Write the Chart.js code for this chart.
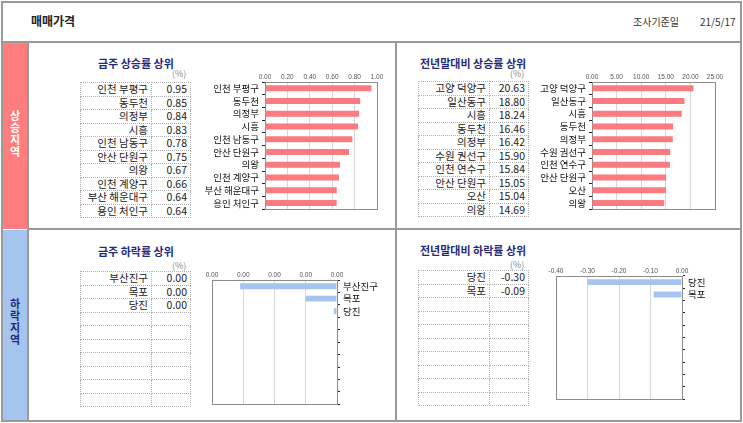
<!DOCTYPE html>
<html><head><meta charset="utf-8">
<script src="https://cdn.jsdelivr.net/npm/chart.js@4/dist/chart.umd.min.js"></script>
<style>
html,body{margin:0;padding:0;background:#fff;}
body{width:743px;height:423px;position:relative;overflow:hidden;font-family:"Noto Sans CJK KR","Noto Sans",sans-serif;}
.abs{position:absolute;}
.box{position:absolute;border:2px solid #9a9a9a;box-sizing:border-box;}
.title{position:absolute;font-weight:bold;font-size:11px;color:#1f2b7b;white-space:nowrap;line-height:14px;}
.unit{position:absolute;font-size:9px;color:#8a8a8a;line-height:10px;}
table.t{position:absolute;border-collapse:collapse;table-layout:fixed;font-size:10.5px;color:#222;}
table.t td{border:1px dotted #b0b0b0;height:12.5px;padding:0 3px;text-align:right;line-height:12px;white-space:nowrap;overflow:hidden;}
.ch{position:absolute;left:3px;width:24px;text-align:center;font-weight:bold;font-size:11px;line-height:12px;height:12px;}
.cw{position:absolute;}
</style></head>
<body>
<div class="box" style="left:1px;top:1px;width:741px;height:42px;"></div>
<div class="abs" style="left:31px;top:12px;font-size:12px;font-weight:bold;color:#222;">매매가격</div>
<div class="abs" style="left:633px;top:14px;font-size:10px;color:#333;">조사기준일</div>
<div class="abs" style="left:700px;top:14px;font-size:10px;color:#333;">21/5/17</div>

<div class="box" style="left:1px;top:41px;width:741px;height:381px;"></div>
<div class="abs" style="left:3px;top:43px;width:24px;height:186px;background:#ff7d7d;"></div>
<div class="abs" style="left:3px;top:230px;width:24px;height:190px;background:#a6c5ee;"></div>
<div class="abs" style="left:27px;top:43px;width:2px;height:377px;background:#9a9a9a;"></div>
<div class="abs" style="left:395px;top:43px;width:2px;height:377px;background:#9a9a9a;"></div>
<div class="abs" style="left:29px;top:228px;width:711px;height:2px;background:#9a9a9a;"></div>
<div class="ch" style="top:109px;color:#fff;">상</div>
<div class="ch" style="top:121px;color:#fff;">승</div>
<div class="ch" style="top:133px;color:#fff;">지</div>
<div class="ch" style="top:145px;color:#fff;">역</div>
<div class="ch" style="top:297px;color:#1f2b7b;">하</div>
<div class="ch" style="top:309px;color:#1f2b7b;">락</div>
<div class="ch" style="top:321px;color:#1f2b7b;">지</div>
<div class="ch" style="top:333px;color:#1f2b7b;">역</div>

<div class="title" style="left:98px;top:56px;">금주 상승률 상위</div>
<div class="unit" style="left:172px;top:69px;">(%)</div>
<table class="t" id="t1" style="left:80px;top:82px;width:110px;"></table>

<div class="title" style="left:420px;top:56px;">전년말대비 상승률 상위</div>
<div class="unit" style="left:510px;top:69px;">(%)</div>
<table class="t" id="t2" style="left:418px;top:81px;width:110px;"></table>

<div class="title" style="left:98px;top:244px;">금주 하락률 상위</div>
<div class="unit" style="left:172px;top:261px;">(%)</div>
<table class="t" id="t3" style="left:80px;top:271px;width:110px;"></table>

<div class="title" style="left:420px;top:243px;">전년말대비 하락률 상위</div>
<div class="unit" style="left:510px;top:260px;">(%)</div>
<table class="t" id="t4" style="left:418px;top:270px;width:110px;"></table>

<div class="cw" style="left:195px;top:66px;width:190px;height:152px;"><canvas id="c1"></canvas></div>
<div class="cw" style="left:532px;top:64px;width:193px;height:154px;"><canvas id="c2"></canvas></div>
<div class="cw" style="left:198px;top:263px;width:184px;height:150px;"><canvas id="c3"></canvas></div>
<div class="cw" style="left:540px;top:259px;width:172px;height:149px;"><canvas id="c4"></canvas></div>

<script>
// ---- data ----
const weekUpNames = ["인천 부평구","동두천","의정부","시흥","인천 남동구","안산 단원구","의왕","인천 계양구","부산 해운대구","용인 처인구"];
const weekUpValues = [0.95,0.85,0.84,0.83,0.78,0.75,0.67,0.66,0.64,0.64];
const yearUpNames = ["고양 덕양구","일산동구","시흥","동두천","의정부","수원 권선구","인천 연수구","안산 단원구","오산","의왕"];
const yearUpValues = [20.63,18.80,18.24,16.46,16.42,15.90,15.84,15.05,15.04,14.69];
const weekDownNames = ["부산진구","목포","당진"];
const weekDownValues = [-0.0031,-0.0010,-0.0001];
const yearDownNames = ["당진","목포"];
const yearDownValues = [-0.30,-0.09];
const ROWS = 10;
const weekUpTicks = {min:0, max:1, step:0.2};
const yearUpTicks = {min:0, max:25, step:5};
const weekDownTicks = {min:-0.004, max:0, step:0.001};
const yearDownTicks = {min:-0.4, max:0, step:0.1};

function fmt(v){ let s = Number(v).toFixed(2); if (s === "-0.00") s = "0.00"; return s; }

function fillTable(id, names, vals){
  const t = document.getElementById(id);
  let html = '<colgroup><col style="width:71px"><col style="width:39px"></colgroup>';
  for (let i=0;i<ROWS;i++){
    const n = i<names.length ? names[i] : "";
    const v = i<vals.length ? fmt(vals[i]) : "";
    html += '<tr><td>'+n+'</td><td>'+v+'</td></tr>';
  }
  t.innerHTML = html;
}
fillTable("t1", weekUpNames, weekUpValues);
fillTable("t2", yearUpNames, yearUpValues);
fillTable("t3", weekDownNames, weekDownValues);
fillTable("t4", yearDownNames, yearDownValues);

function pad(arr, fill){ const a = arr.slice(); while(a.length<ROWS) a.push(fill); return a; }

const frame = {
  id:'frame',
  beforeDatasetsDraw(chart){
    const {ctx, chartArea:a} = chart;
    ctx.save(); ctx.strokeStyle='#8c8c8c'; ctx.lineWidth=1;
    ctx.strokeRect(Math.round(a.left)+0.5, Math.round(a.top)+0.5, Math.round(a.right-a.left), Math.round(a.bottom-a.top));
    ctx.restore();
  }
};

function make(id, names, vals, tk, color, yPos, yW, xH, padding){
  new Chart(document.getElementById(id), {
    type:'bar',
    data:{ labels: pad(names,""), datasets:[{ data: pad(vals,null), backgroundColor: color, borderWidth:0, barPercentage:0.47, categoryPercentage:1 }]},
    options:{
      indexAxis:'y', responsive:true, maintainAspectRatio:false, animation:false,
      layout:{ padding: padding },
      plugins:{ legend:{display:false}, tooltip:{enabled:false} },
      scales:{
        x:{ position:'top', min:tk.min, max:tk.max,
            ticks:{ stepSize:tk.step, callback:(v)=>fmt(v), color:'#555', font:{family:'Liberation Sans', size:6.5}, padding:1, maxRotation:0, autoSkip:false },
            grid:{ color:'#d8d8d8', drawTicks:false, lineWidth:1 },
            border:{ display:true, color:'#222', width:1 },
            afterFit:(s)=>{ s.height = xH; } },
        y:{ position:yPos,
            ticks:{ color:'#111', font:{family:'Noto Sans CJK KR', size:9.5}, padding:3, autoSkip:false },
            grid:{ offset:true, drawOnChartArea:false, tickLength:3, color:'#222' },
            border:{ display:true, color:'#222', width:1 },
            afterFit:(s)=>{ s.width = yW; } }
      }
    },
    plugins:[frame]
  });
}
make("c1", weekUpNames, weekUpValues, weekUpTicks, "#fa7b80", 'left', 70, 16, {left:0,right:8,top:0,bottom:5});
make("c2", yearUpNames, yearUpValues, yearUpTicks, "#fa7b80", 'left', 60, 18, {left:0,right:10,top:0,bottom:5});
make("c3", weekDownNames, weekDownValues, weekDownTicks, "#a6c5ee", 'right', 45, 17, {left:14,right:0,top:0,bottom:5});
make("c4", yearDownNames, yearDownValues, yearDownTicks, "#a6c5ee", 'right', 30, 17, {left:16,right:0,top:0,bottom:5});
</script>
</body></html>
